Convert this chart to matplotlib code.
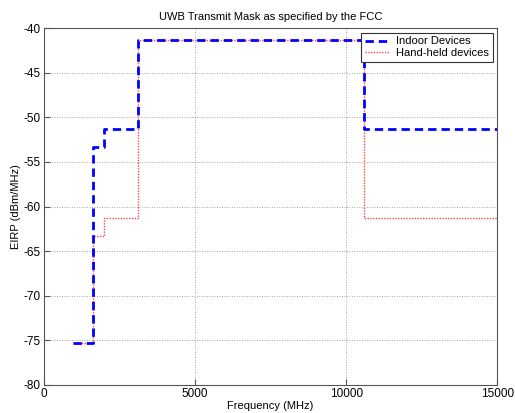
import matplotlib
matplotlib.use("Agg")
import matplotlib.pyplot as plt

# Data
freq_edges = [960, 1610, 1990, 3100, 10600, 15000]
indoor = [-75.3, -53.3, -51.3, -41.3, -51.3]
handheld = [-75.3, -63.3, -61.3, -41.3, -61.3]
xticks = [0, 5000, 10000, 15000]
yticks = [-80, -75, -70, -65, -60, -55, -50, -45, -40]

def steps(edges, vals):
    xs, ys = [], []
    for i, v in enumerate(vals):
        xs += [edges[i], edges[i + 1]]
        ys += [v, v]
    return xs, ys

plt.rcParams['font.family'] = ['Liberation Sans', 'DejaVu Sans']
plt.rcParams['axes.unicode_minus'] = False
fig = plt.figure(figsize=(5.15, 4.13), dpi=100)
ax = fig.add_axes([0.0854, 0.0678, 0.880, 0.864])

xi, yi = steps(freq_edges, indoor)
xh, yh = steps(freq_edges, handheld)
ax.plot(xi, yi, color='#0000ff', linestyle=(0, (3, 1.8)), linewidth=2, label='Indoor Devices', zorder=3)
ax.plot(xh, yh, color='#ff4444', linestyle=(0, (1, 1)), linewidth=1, label='Hand-held devices', zorder=2)

ax.set_xlim(0, 15000)
ax.set_ylim(-80, -40)
ax.set_xticks(xticks)
ax.set_yticks(yticks)
ax.grid(True, color='#888888', linestyle=(0, (1, 2)), linewidth=0.6)
ax.tick_params(direction='in', labelsize=8.5, length=4, color='#555555', pad=2.5)
for s in ax.spines.values():
    s.set_color('#555555')
    s.set_linewidth(0.8)

ax.set_title('UWB Transmit Mask as specified by the FCC', fontsize=8)
ax.set_xlabel('Frequency (MHz)', fontsize=8, labelpad=0.5)
ax.set_ylabel('EIRP (dBm/MHz)', fontsize=8, labelpad=2)

leg = ax.legend(loc='upper right', fontsize=8, fancybox=False, framealpha=1,
                edgecolor='#333333', handlelength=2.2, borderpad=0.35,
                labelspacing=0.15, borderaxespad=0.4, handletextpad=0.6)
leg.get_frame().set_linewidth(0.8)

fig.savefig('out.png', dpi=100)
